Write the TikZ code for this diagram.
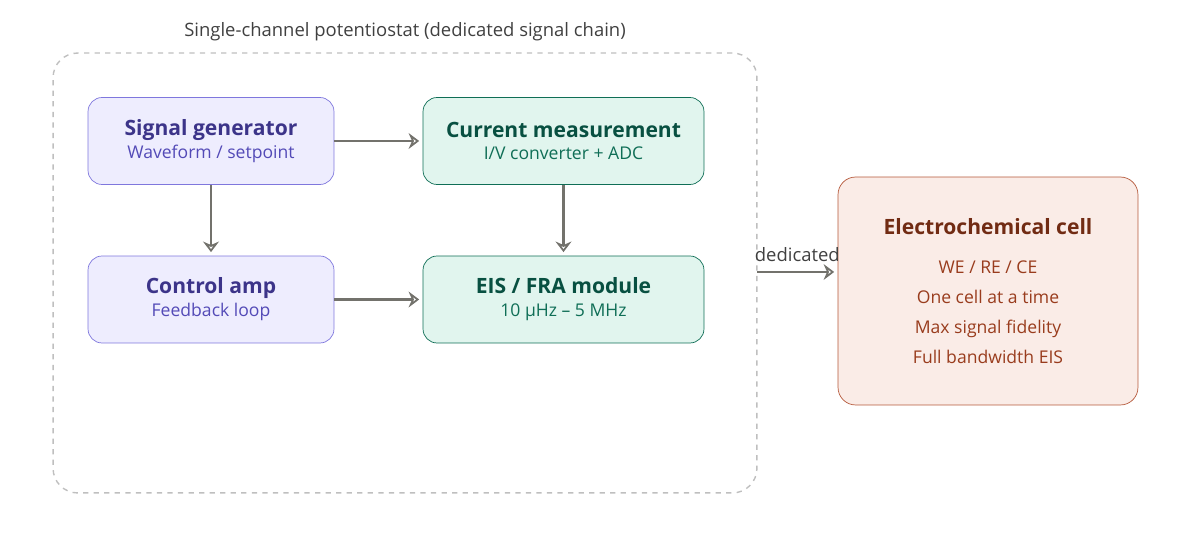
\documentclass[tikz,border=0pt]{standalone}
\usepackage{fontspec}
\setmainfont{Open Sans}
\usetikzlibrary{arrows.meta}
\definecolor{purpfill}{HTML}{EEEDFE}
\definecolor{purpline}{HTML}{7F77DD}
\definecolor{purptext}{HTML}{3C3489}
\definecolor{purpsub}{HTML}{534AB7}
\definecolor{greenfill}{HTML}{E1F5EE}
\definecolor{greenline}{HTML}{0F6E56}
\definecolor{greentext}{HTML}{085041}
\definecolor{greensub}{HTML}{0F6E56}
\definecolor{cellfill}{HTML}{FAECE7}
\definecolor{cellline}{HTML}{B5583A}
\definecolor{celltext}{HTML}{712B13}
\definecolor{cellsub}{HTML}{993C1D}
\definecolor{arrowgray}{HTML}{73726C}
\begin{document}
\begin{tikzpicture}[
        x=0.02cm, y=-0.02cm,
        block/.style={rectangle, draw, rounded corners=8pt, minimum height=1.74cm, align=center, inner sep=0pt},
        purple_block/.style={block, fill=purpfill, draw=purpline, minimum width=4.92cm},
        green_block/.style={block, fill=greenfill, draw=greenline, minimum width=5.62cm},
        arrow/.style={-{Stealth[open, length=6pt, width=9pt]}, draw=arrowgray, line width=1.3pt, shorten >=2pt},
        head/.style={font=\fontsize{12}{14}\selectfont\bfseries},
        sub/.style={font=\fontsize{10}{12}\selectfont}
    ]

        \useasboundingbox (0,0) rectangle (1198,546);

        % Container
        \node[draw=black!25, dashed, rounded corners=14pt, minimum width=14.08cm, minimum height=8.8cm, line width=0.8pt] (box) at (405,273) {};
        \node[font=\fontsize{10.5}{12}\selectfont, text=black!75] (box_title) at (405,32) {Single-channel potentiostat (dedicated signal chain)};

        % Blocks
        \node[purple_block] (siggen) at (211,141) {{\color{purptext}\fontsize{12}{14}\selectfont\bfseries Signal generator}\\[1pt]{\color{purpsub}\fontsize{10}{12}\selectfont Waveform / setpoint}};
        \node[green_block] (curmeas) at (563.5,141) {{\color{greentext}\fontsize{12}{14}\selectfont\bfseries Current measurement}\\[1pt]{\color{greensub}\fontsize{10}{12}\selectfont I/V converter + ADC}};
        \node[purple_block] (ctrlamp) at (211,299.5) {{\color{purptext}\fontsize{12}{14}\selectfont\bfseries Control amp}\\[1pt]{\color{purpsub}\fontsize{10}{12}\selectfont Feedback loop}};
        \node[green_block] (eisfra) at (563.5,299.5) {{\color{greentext}\fontsize{12}{14}\selectfont\bfseries EIS / FRA module}\\[1pt]{\color{greensub}\fontsize{10}{12}\selectfont 10 µHz – 5 MHz}};

        % Cell
        \node[block, fill=cellfill, draw=cellline, rounded corners=10pt, minimum width=6cm, minimum height=4.56cm] (cell) at (988,291) {};
        \node[text=celltext, font=\fontsize{12}{14}\selectfont\bfseries] (cell_title) at (988,227) {Electrochemical cell};
        \node[text=cellsub, font=\fontsize{10}{12}\selectfont, align=center] (cell_list) at (988,312) {WE / RE / CE\\[5pt]One cell at a time\\[5pt]Max signal fidelity\\[5pt]Full bandwidth EIS};

        % Connections
        \draw[arrow] (siggen) -- (curmeas);
        \draw[arrow] (siggen) -- (ctrlamp);
        \draw[arrow] (curmeas) -- (eisfra);
        \draw[arrow] (ctrlamp) -- (eisfra);
        \coordinate (box_out) at (757,272);
        \draw[arrow] (box_out) -- (cell.west |- box_out) node[midway, above=2pt, text=black!75, font=\fontsize{10.5}{12}\selectfont] {dedicated};

    \end{tikzpicture}
\end{document}
